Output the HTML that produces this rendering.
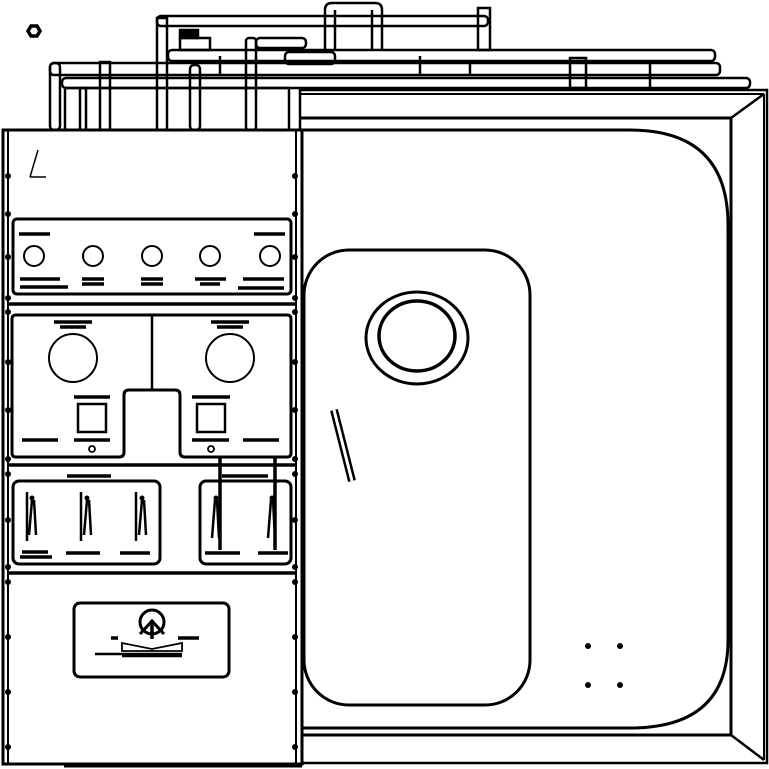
<!DOCTYPE html>
<html><head><style>html,body{margin:0;padding:0;background:#fff}svg{display:block}</style></head>
<body>
<svg width="769" height="769" viewBox="0 0 769 769" xmlns="http://www.w3.org/2000/svg" fill="none" stroke="#000" stroke-width="2.5">
<polygon points="28,31 31,26 37,26 40,31 37,36 31,36" stroke-width="3.5"/>
<g stroke-width="2.5">
<rect x="157" y="16" width="331" height="10" rx="4"/>
<rect x="157" y="18" width="10" height="112"/>
<path d="M325 50 V10 Q325 3 332 3 H375 Q382 3 382 10 V50"/>
<line x1="335" y1="10" x2="335" y2="50"/><line x1="372" y1="10" x2="372" y2="50"/>
<rect x="478" y="8" width="12" height="42"/>
<rect x="246" y="38" width="10" height="92" rx="3"/>
<rect x="256" y="38" width="50" height="10" rx="4"/>
<rect x="168" y="50" width="547" height="11" rx="4"/>
<rect x="50" y="63" width="670" height="12" rx="4"/>
<rect x="62" y="78" width="688" height="10" rx="4"/>
<rect x="50" y="63" width="10" height="67" rx="4"/>
<rect x="100" y="62" width="10" height="68"/>
<rect x="190" y="65" width="10" height="65" rx="4"/>
<rect x="80" y="88" width="6" height="42"/>
<rect x="65" y="88" width="224" height="42"/>
<rect x="180" y="38" width="30" height="12"/>
<rect x="285" y="52" width="50" height="12" rx="4"/>
<rect x="570" y="58" width="16" height="30"/>
<path d="M180 30 h18 v8 h-18z" fill="#000"/>
<line x1="220" y1="56" x2="220" y2="75"/><line x1="420" y1="56" x2="420" y2="75"/>
<line x1="470" y1="63" x2="470" y2="75"/><line x1="650" y1="63" x2="650" y2="88"/>
</g>
<rect x="300" y="90" width="467" height="673" stroke-width="2.5"/>
<line x1="300" y1="94" x2="764" y2="94" stroke-width="2"/>
<line x1="764" y1="94" x2="764" y2="760" stroke-width="2"/>
<line x1="300" y1="118" x2="731" y2="118" stroke-width="3"/>
<line x1="731" y1="118" x2="731" y2="735" stroke-width="3"/>
<line x1="300" y1="735" x2="731" y2="735" stroke-width="3"/>
<line x1="731" y1="118" x2="764" y2="94"/>
<line x1="731" y1="735" x2="764" y2="760"/>
<path d="M302 130 H630 Q728 130 728 225 V640 Q728 728 630 728 H302" stroke-width="3"/>
<rect x="304" y="250" width="226" height="455" rx="45" stroke-width="3"/>
<ellipse cx="417" cy="338" rx="51" ry="46" stroke-width="3"/>
<ellipse cx="417" cy="336" rx="38" ry="35" stroke-width="3.5"/>
<line x1="334" y1="410" x2="352" y2="481" stroke-width="8"/>
<line x1="334" y1="410" x2="352" y2="481" stroke="#fff" stroke-width="3"/>
<g fill="#000" stroke="none">
<circle cx="588" cy="646" r="3"/><circle cx="620" cy="646" r="3"/>
<circle cx="588" cy="685" r="3"/><circle cx="620" cy="685" r="3"/>
</g>
<rect x="3" y="130" width="299" height="634" fill="#fff" stroke-width="3"/>
<line x1="8" y1="130" x2="8" y2="764" stroke-width="2"/>
<line x1="296" y1="130" x2="296" y2="764" stroke-width="2"/>
<line x1="64" y1="766" x2="302" y2="766" stroke-width="3"/>
<path d="M30 177 L38 150 M30 177 H46" stroke-width="1.5"/>
<g stroke-width="3.5">
<line x1="8" y1="304" x2="296" y2="304"/>
<line x1="8" y1="465" x2="296" y2="465"/>
<line x1="8" y1="573" x2="296" y2="573"/>
</g>
<g fill="#000" stroke="none">
<circle cx="8" cy="176" r="3"/><circle cx="295" cy="176" r="3"/>
<circle cx="8" cy="214" r="3"/><circle cx="295" cy="214" r="3"/>
<circle cx="8" cy="257" r="3"/><circle cx="295" cy="257" r="3"/>
<circle cx="8" cy="298" r="3"/><circle cx="295" cy="298" r="3"/>
<circle cx="8" cy="312" r="3"/><circle cx="295" cy="312" r="3"/>
<circle cx="8" cy="362" r="3"/><circle cx="295" cy="362" r="3"/>
<circle cx="8" cy="410" r="3"/><circle cx="295" cy="410" r="3"/>
<circle cx="8" cy="459" r="3"/><circle cx="295" cy="459" r="3"/>
<circle cx="8" cy="474" r="3"/><circle cx="295" cy="474" r="3"/>
<circle cx="8" cy="520" r="3"/><circle cx="295" cy="520" r="3"/>
<circle cx="8" cy="567" r="3"/><circle cx="295" cy="567" r="3"/>
<circle cx="8" cy="582" r="3"/><circle cx="295" cy="582" r="3"/>
<circle cx="8" cy="637" r="3"/><circle cx="295" cy="637" r="3"/>
<circle cx="8" cy="692" r="3"/><circle cx="295" cy="692" r="3"/>
<circle cx="8" cy="747" r="3"/><circle cx="295" cy="747" r="3"/>
</g>
<rect x="13" y="219" width="278" height="75" rx="4" stroke-width="3"/>
<g stroke-width="2">
<circle cx="34" cy="256" r="10"/><circle cx="93" cy="256" r="10"/><circle cx="152" cy="256" r="10"/>
<circle cx="210" cy="256" r="10"/><circle cx="270" cy="256" r="10"/>
</g>
<g stroke-width="3.5">
<line x1="19" y1="234" x2="50" y2="234"/><line x1="254" y1="234" x2="285" y2="234"/>
<line x1="20" y1="279" x2="60" y2="279"/><line x1="20" y1="287" x2="68" y2="287"/>
<line x1="82" y1="279" x2="104" y2="279"/><line x1="82" y1="284" x2="104" y2="284"/>
<line x1="141" y1="279" x2="163" y2="279"/><line x1="141" y1="284" x2="163" y2="284"/>
<line x1="195" y1="279" x2="226" y2="279"/><line x1="200" y1="284" x2="220" y2="284"/>
<line x1="243" y1="279" x2="284" y2="279"/><line x1="238" y1="288" x2="284" y2="288"/>
</g>
<path d="M16 315 H287 Q291 315 291 319 V453 Q291 457 287 457 H185 Q180 457 180 452 V395 Q180 390 175 390 H129 Q124 390 124 395 V452 Q124 457 119 457 H16 Q12 457 12 453 V319 Q12 315 16 315 Z" stroke-width="3"/>
<line x1="152" y1="315" x2="152" y2="390" stroke-width="2.5"/>
<circle cx="73" cy="358" r="24" stroke-width="2"/>
<circle cx="230" cy="358" r="24" stroke-width="2"/>
<rect x="78" y="404" width="28" height="28" stroke-width="2.5"/>
<rect x="197" y="404" width="28" height="28" stroke-width="2.5"/>
<circle cx="92" cy="449" r="3" stroke-width="1.8"/><circle cx="211" cy="449" r="3" stroke-width="1.8"/>
<g stroke-width="3.5">
<line x1="54" y1="322" x2="92" y2="322"/><line x1="60" y1="327" x2="86" y2="327"/>
<line x1="211" y1="322" x2="249" y2="322"/><line x1="217" y1="327" x2="243" y2="327"/>
<line x1="74" y1="397" x2="110" y2="397"/><line x1="192" y1="397" x2="230" y2="397"/>
<line x1="22" y1="440" x2="58" y2="440"/><line x1="74" y1="440" x2="110" y2="440"/>
<line x1="192" y1="440" x2="229" y2="440"/><line x1="243" y1="440" x2="279" y2="440"/>
</g>
<line x1="220" y1="458" x2="220" y2="550" stroke-width="3.5"/>
<line x1="275" y1="458" x2="275" y2="550" stroke-width="3.5"/>
<rect x="13" y="481" width="147" height="83" rx="6" stroke-width="3"/>
<rect x="200" y="481" width="91" height="83" rx="6" stroke-width="3"/>
<g stroke-width="3.5">
<line x1="67" y1="476" x2="111" y2="476"/><line x1="222" y1="476" x2="268" y2="476"/>
<line x1="22" y1="552" x2="48" y2="552"/><line x1="20" y1="557" x2="52" y2="557"/>
<line x1="66" y1="553" x2="100" y2="553"/><line x1="120" y1="553" x2="150" y2="553"/>
<line x1="205" y1="553" x2="240" y2="553"/><line x1="258" y1="553" x2="288" y2="553"/>
</g>
<g stroke-width="2.5">
<path d="M27 492 V541 M32 500 L29 535 M34 500 L36 535"/>
<path d="M81 492 V541 M87 500 L84 535 M89 500 L91 535"/>
<path d="M136 492 V541 M142 500 L139 535 M144 500 L146 535"/>
<path d="M215 500 L212 538 M217 500 L219 538"/>
<path d="M271 500 L268 538 M273 500 L275 538"/>
</g>
<g fill="#000" stroke="none">
<circle cx="32" cy="498" r="2.5"/><circle cx="87" cy="498" r="2.5"/><circle cx="142" cy="498" r="2.5"/>
<circle cx="216" cy="498" r="2.5"/><circle cx="272" cy="498" r="2.5"/>
</g>
<rect x="74" y="603" width="155" height="74" rx="6" stroke-width="3"/>
<circle cx="152" cy="622" r="12" stroke-width="3"/>
<path d="M140 634 L152 621 L164 634" stroke-width="3"/>
<line x1="152" y1="622" x2="152" y2="639" stroke-width="3.5"/>
<path d="M122 643 L152 649 L182 643 V651 H122 Z" stroke-width="1.8"/>
<line x1="95" y1="654" x2="182" y2="654" stroke-width="2.5"/>
<line x1="122" y1="656" x2="182" y2="656" stroke-width="2.5"/>
<line x1="111" y1="638" x2="118" y2="638" stroke-width="3.5"/>
<line x1="178" y1="638" x2="199" y2="638" stroke-width="3.5"/>
</svg>
</body></html>
